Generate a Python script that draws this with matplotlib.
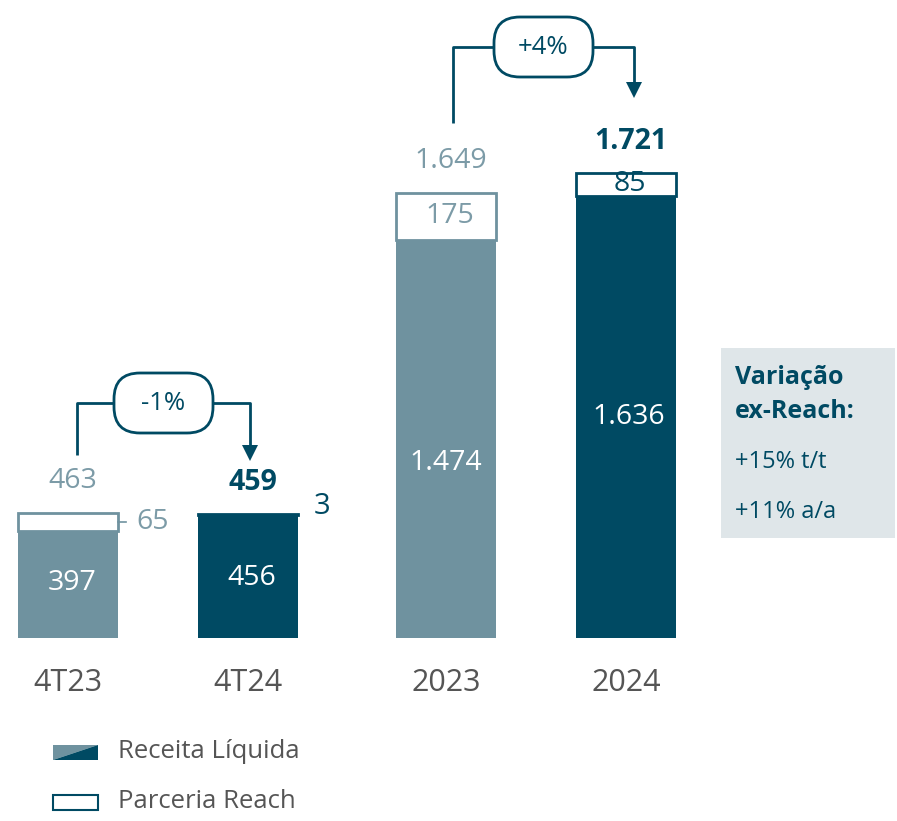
import matplotlib.pyplot as plt
from matplotlib.patches import FancyBboxPatch, Polygon, Rectangle

# data
categories = ['4T23', '4T24', '2023', '2024']
receita = [397, 456, 1474, 1636]
reach = [65, 3, 175, 85]
totais = ['463', '459', '1.649', '1.721']
receita_lbl = ['397', '456', '1.474', '1.636']
reach_lbl = ['65', '3', '175', '85']
variacoes = ['-1%', '+4%']
ex_reach = ['+15% t/t', '+11% a/a']

LIGHT = '#6f929f'
DARK = '#004a63'
LIGHT_TXT = '#7c9ba7'
GREY = '#555555'
W, H = 897, 821
BASE = 638        # baseline, pixels from top
SCALE = 0.27      # pixels per unit

plt.rcParams['font.family'] = ['Open Sans', 'DejaVu Sans']

fig = plt.figure(figsize=(W / 100, H / 100), dpi=100)
ax = fig.add_axes([0, 0, 1, 1])
ax.set_xlim(0, W)
ax.set_ylim(-(H - BASE) / SCALE, BASE / SCALE)
ax.axis('off')

xs = [68, 248, 446, 626]
fills = [LIGHT, DARK, LIGHT, DARK]
lbl_pos = [0.51, 0.49, 0.44, 0.50]
lbl_dx = [4, 4, 0, 3]

for i, cat in enumerate(categories):
    ax.bar(xs[i], receita[i], width=100, color=fills[i], linewidth=0)
    ax.bar(xs[i], reach[i], bottom=receita[i], width=100, color='white',
           edgecolor=fills[i], linewidth=2)
    ax.text(xs[i], -45 / SCALE, cat, ha='center', va='center', fontsize=22, color=GREY)
    ax.text(xs[i] + lbl_dx[i], receita[i] * lbl_pos[i], receita_lbl[i], ha='center',
            va='center', fontsize=20.5, color='white')

# totals above bars
tot = [r + p for r, p in zip(receita, reach)]
for i in range(4):
    bold = i in (1, 3)
    ax.text(xs[i] + 5, tot[i] + 32 / SCALE, totais[i], ha='center', va='center',
            fontsize=20.5, color=DARK if bold else LIGHT_TXT,
            fontweight='bold' if bold else 'normal')

# reach labels
ax.plot([118, 126], [receita[0] + reach[0] / 2] * 2, color=LIGHT, lw=1.2)
ax.text(153, receita[0] + reach[0] / 2, reach_lbl[0], ha='center', va='center',
        fontsize=20.5, color=LIGHT_TXT)
ax.text(322, tot[1] + 8 / SCALE, reach_lbl[1], ha='center', va='center',
        fontsize=21, color=DARK)
ax.text(xs[2] + 4, receita[2] + reach[2] / 2, reach_lbl[2], ha='center', va='center',
        fontsize=20.5, color=LIGHT_TXT)
ax.text(xs[3] + 4, receita[3] + reach[3] / 2 + 3, reach_lbl[3], ha='center', va='center',
        fontsize=20.5, color=DARK)

# overlay in pixel coordinates for brackets, box and legend
ov = fig.add_axes([0, 0, 1, 1])
ov.set_xlim(0, W)
ov.set_ylim(H, 0)
ov.axis('off')
ov.patch.set_alpha(0)


def bracket(x0, x1, ytop, y0, y1, px0, px1, ph, label):
    ov.plot([x0, x0, px0], [y0, ytop, ytop], color=DARK, lw=2, solid_capstyle='butt')
    ov.plot([px1, x1, x1], [ytop, ytop, y1 - 14], color=DARK, lw=2, solid_capstyle='butt')
    ov.add_patch(Polygon([[x1 - 8, y1 - 16], [x1 + 8, y1 - 16], [x1, y1]],
                         closed=True, color=DARK, lw=0))
    ov.add_patch(FancyBboxPatch((px0, ytop - ph / 2), px1 - px0, ph,
                                boxstyle='round,pad=0,rounding_size=26',
                                facecolor='white', edgecolor=DARK, lw=2))
    ov.text((px0 + px1) / 2, ytop, label, ha='center', va='center',
            fontsize=18.5, color=DARK)


bracket(77, 250, 403, 455, 461, 114, 213, 60, variacoes[0])
bracket(453, 634, 47, 123, 98, 494, 593, 60, variacoes[1])

# ex-Reach box
ov.add_patch(Rectangle((721, 348), 174, 190, facecolor='#dfe6e9', lw=0))
ov.text(735, 377, 'Variação', ha='left', va='center', fontsize=18,
        fontweight='bold', color=DARK)
ov.text(735, 411, 'ex-Reach:', ha='left', va='center', fontsize=18,
        fontweight='bold', color=DARK)
ov.text(735, 462, ex_reach[0], ha='left', va='center', fontsize=17, color=DARK)
ov.text(735, 512, ex_reach[1], ha='left', va='center', fontsize=17, color=DARK)

# legend
ov.add_patch(Polygon([[53, 745], [98, 745], [53, 760]], closed=True, color=LIGHT, lw=0))
ov.add_patch(Polygon([[98, 745], [98, 760], [53, 760]], closed=True, color=DARK, lw=0))
ov.add_patch(Rectangle((53, 795), 45, 15, facecolor='white', edgecolor=DARK, lw=1.5))
ov.text(118, 752, 'Receita Líquida', ha='left', va='center', fontsize=18.5, color=GREY)
ov.text(118, 802, 'Parceria Reach', ha='left', va='center', fontsize=18.5, color=GREY)

fig.savefig('out.png', dpi=100)
